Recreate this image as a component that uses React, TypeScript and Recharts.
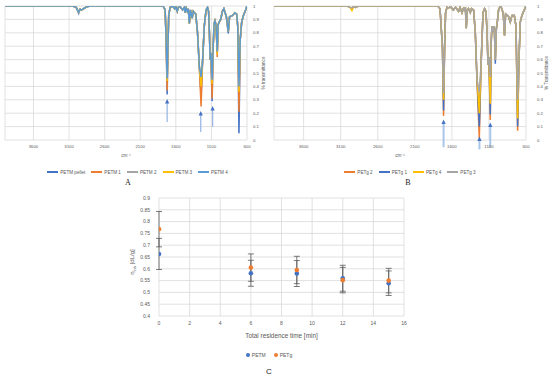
import React from 'react';
import {
  LineChart, Line, XAxis, YAxis, CartesianGrid, Legend, ReferenceLine, ReferenceDot, Label,
  ScatterChart, Scatter, ErrorBar,
} from 'recharts';

const FONT = '"Liberation Sans", Arial, sans-serif';
const TICK = '#595959';
const GRID = '#D9D9D9';

// ---------- Panel A : PETM spectra ----------
const aWavenumbers = [4000, 3050, 3000, 2965, 2945, 2925, 2880, 2850, 2800, 1780, 1750, 1736, 1722, 1710, 1700, 1680, 1640, 1615, 1600, 1580, 1565, 1540, 1505, 1480, 1470, 1455, 1440, 1425, 1410, 1395, 1370, 1355, 1340, 1320, 1295, 1270, 1245, 1225, 1200, 1175, 1155, 1140, 1128, 1118, 1108, 1090, 1075, 1062, 1050, 1035, 1018, 1005, 990, 970, 945, 925, 890, 863, 845, 800, 770, 745, 730, 713, 695, 675, 650, 620, 600];
const aBaseT = [1, 1, 0.99, 0.955, 0.975, 0.97, 0.985, 0.995, 1, 1, 0.97, 0.75, 0.46, 0.7, 0.93, 0.99, 1, 0.98, 0.995, 0.96, 0.99, 0.995, 0.97, 0.99, 0.95, 0.985, 0.96, 0.98, 0.87, 0.97, 0.91, 0.96, 0.95, 0.94, 0.8, 0.55, 0.47, 0.58, 0.85, 0.97, 0.99, 0.96, 0.8, 0.6, 0.65, 0.45, 0.7, 0.87, 0.89, 0.86, 0.66, 0.86, 0.88, 0.9, 0.96, 0.98, 0.92, 0.81, 0.92, 0.93, 0.95, 0.94, 0.85, 0.4, 0.75, 0.88, 0.93, 0.97, 1];
const aPeakWn = [2965, 1722, 1245, 1090, 1018, 863, 713];
const petmPellet = [0.945, 0.34, 0.33, 0.29, 0.65, 0.795, 0.05];
const petm1 = [0.955, 0.37, 0.25, 0.31, 0.62, 0.81, 0.21];
const petm2 = [0.955, 0.45, 0.42, 0.44, 0.66, 0.81, 0.38];
const petm3 = [0.955, 0.44, 0.40, 0.42, 0.64, 0.81, 0.36];
const petm4 = [0.955, 0.46, 0.47, 0.45, 0.66, 0.81, 0.40];
const aNames = ['PETM pellet', 'PETM 1', 'PETM 2', 'PETM 3', 'PETM 4'];
const aArrowWn = [1722, 1250, 1083];
const aArrowTip = [0.306, 0.216, 0.254];
const aArrowTail = [0.134, 0.06, 0.097];

// ---------- Panel B : PETg spectra ----------
const bWavenumbers = [4000, 3010, 2975, 2948, 2925, 2900, 2860, 1790, 1760, 1728, 1712, 1698, 1685, 1666, 1645, 1620, 1580, 1550, 1510, 1490, 1464, 1445, 1433, 1418, 1406, 1392, 1375, 1352, 1335, 1307, 1284, 1261, 1230, 1207, 1180, 1159, 1140, 1125, 1113, 1100, 1082, 1068, 1059, 1045, 1028, 1014, 1000, 991, 970, 947, 924, 905, 890, 875, 855, 835, 812, 789, 758, 735, 713, 695, 677, 655, 632, 600];
const bBaseT = [1, 1, 0.99, 0.985, 0.995, 0.99, 1, 1, 0.98, 0.7, 0.35, 0.7, 0.95, 0.99, 0.985, 0.995, 0.97, 0.99, 0.96, 0.99, 0.95, 0.98, 0.97, 0.99, 0.835, 0.97, 0.98, 0.95, 0.98, 0.97, 0.8, 0.45, 0.36, 0.55, 0.95, 0.98, 0.96, 0.8, 0.56, 0.62, 0.47, 0.75, 0.85, 0.82, 0.85, 0.6, 0.83, 0.86, 0.97, 1, 0.98, 0.93, 0.78, 0.94, 0.93, 0.92, 0.88, 0.93, 0.93, 0.85, 0.3, 0.6, 0.88, 0.93, 0.96, 1];
const bPeakWn = [2948, 1712, 1230, 1082, 1014, 713];
const petg2 = [0.985, 0.18, 0.01, 0.15, 0.6, 0.07];
const petg1 = [0.985, 0.22, 0.10, 0.19, 0.57, 0.10];
const petg4 = [0.965, 0.30, 0.20, 0.27, 0.6, 0.16];
const petg3 = [0.985, 0.35, 0.36, 0.47, 0.6, 0.30];
const bNames = ['PETg 2', 'PETg 1', 'PETg 4', 'PETg 3'];
const bArrowWn = [1712, 1228, 1082];
const bArrowTip = [0.153, 0.027, 0.13];
const bArrowTail = [-0.054, -0.07, -0.054];

const specXTicks = [3600, 3100, 2600, 2100, 1600, 1100, 600];
const specYTicks = [0, 0.1, 0.2, 0.3, 0.4, 0.5, 0.6, 0.7, 0.8, 0.9, 1];

// ---------- Panel C : inherent viscosity ----------
const times = [0, 6, 9, 12, 15];
const petmEta = [0.663, 0.581, 0.58, 0.56, 0.539];
const petmErr = [0.066, 0.055, 0.055, 0.055, 0.052];
const petgEta = [0.768, 0.605, 0.595, 0.552, 0.55];
const petgErr = [0.075, 0.058, 0.058, 0.054, 0.052];
const cXTicks = [0, 2, 4, 6, 8, 10, 12, 14, 16];
const cYTicks = [0.4, 0.45, 0.5, 0.55, 0.6, 0.65, 0.7, 0.75, 0.8, 0.85, 0.9];

const aColors = ['#4472C4', '#ED7D31', '#A5A5A5', '#FFC000', '#5B9BD5'];
const bColors = ['#ED7D31', '#4472C4', '#FFC000', '#A5A5A5'];

function buildSeries(wns: number[], base: number[], peakWn: number[], peakT: number[]) {
  return wns.map((wn, i) => {
    const k = peakWn.indexOf(wn);
    return { wn, t: k >= 0 ? peakT[k] : base[i] };
  });
}

const aData = [petmPellet, petm1, petm2, petm3, petm4].map((p) => buildSeries(aWavenumbers, aBaseT, aPeakWn, p));
const bData = [petg2, petg1, petg4, petg3].map((p) => buildSeries(bWavenumbers, bBaseT, bPeakWn, p));

const petmPoints = times.map((x, i) => ({ x, y: petmEta[i], err: petmErr[i] }));
const petgPoints = times.map((x, i) => ({ x, y: petgEta[i], err: petgErr[i] }));

const LineLegend = ({ names, colors }: { names: string[]; colors: string[] }) => (
  <div style={{ display: 'flex', justifyContent: 'center', alignItems: 'center', height: 10, fontFamily: FONT, fontSize: 4.6, color: TICK, whiteSpace: 'nowrap' }}>
    {names.map((n, i) => (
      <span key={n} style={{ display: 'flex', alignItems: 'center', margin: '0 3px' }}>
        <span style={{ display: 'inline-block', width: 11, height: 1.5, background: colors[i], marginRight: 2 }} />
        {n}
      </span>
    ))}
  </div>
);

const arrowHead = (color: string, w: number, h: number) => (props: any) => {
  const { cx, cy } = props;
  if (cx == null || cy == null) return <g />;
  return <polygon points={`${cx},${cy} ${cx - w / 2},${cy + h} ${cx + w / 2},${cy + h}`} fill={color} />;
};

function Spectrum(props: {
  data: { wn: number; t: number }[][];
  names: string[];
  colors: string[];
  width: number;
  marginLeft: number;
  yAxisWidth: number;
  yTickGap: number;
  yTitle: string;
  yTitleDx: number;
  arrowWn: number[];
  arrowTip: number[];
  arrowTail: number[];
  shaftColor: string;
  shaftWidth: number;
}) {
  const p = props;
  return (
    <LineChart width={p.width} height={190} margin={{ top: 6, left: p.marginLeft, right: 0, bottom: 13 }}>
      <CartesianGrid stroke={GRID} strokeWidth={0.8} />
      <XAxis type="number" dataKey="wn" domain={[600, 4000]} reversed ticks={specXTicks} allowDataOverflow
        axisLine={false} tickLine={false} tickSize={3} tickMargin={2} height={27} interval={0}
        tick={{ fontSize: 4.3, fill: TICK, fontFamily: FONT }}>
        <Label value="cm⁻¹" position="insideBottom" offset={10} fontSize={4.6} fill={TICK} fontFamily={FONT} />
      </XAxis>
      <YAxis orientation="right" type="number" domain={[0, 1]} ticks={specYTicks} allowDataOverflow
        axisLine={false} tickLine={false} tickSize={p.yTickGap} tickMargin={2} width={p.yAxisWidth} interval={0}
        tick={{ fontSize: 4.3, fill: TICK, fontFamily: FONT }}>
        <Label value={p.yTitle} angle={-90} position="center" dx={p.yTitleDx} fontSize={4.6} fill={TICK} fontFamily={FONT} />
      </YAxis>
      <Legend verticalAlign="bottom" align="center" wrapperStyle={{ left: 0, width: p.width }}
        content={() => <LineLegend names={p.names} colors={p.colors} />} />
      {p.data.map((d, i) => (
        <Line key={p.names[i]} name={p.names[i]} data={d} dataKey="t" type="linear" stroke={p.colors[i]}
          strokeWidth={1.5} dot={false} activeDot={false} isAnimationActive={false} />
      ))}
      {p.arrowWn.map((wn, i) => (
        <ReferenceLine key={'s' + i} ifOverflow="visible" stroke={p.shaftColor} strokeWidth={p.shaftWidth}
          segment={[{ x: wn, y: p.arrowTail[i] }, { x: wn, y: p.arrowTip[i] - 0.02 }]} />
      ))}
      {p.arrowWn.map((wn, i) => (
        <ReferenceDot key={'h' + i} x={wn} y={p.arrowTip[i]} ifOverflow="visible" shape={arrowHead('#4472C4', 4.2, 4.5)} />
      ))}
    </LineChart>
  );
}

const dotShape = (color: string) => (props: any) => {
  const { cx, cy } = props;
  if (cx == null || cy == null) return <g />;
  return <circle cx={cx} cy={cy} r={2.3} fill={color} />;
};

const EtaLabel = (props: any) => {
  const vb = props.viewBox || {};
  const cx = vb.x + vb.width / 2 - 7.5;
  const cy = vb.y + vb.height / 2 + 5;
  return (
    <text x={cx} y={cy} transform={`rotate(-90, ${cx}, ${cy})`} textAnchor="middle" dominantBaseline="central"
      fontSize={6} fill={TICK} fontFamily={FONT}>
      η<tspan fontSize={4} dy={1.5}>inh</tspan><tspan dy={-1.5}> [dL/g]</tspan>
    </text>
  );
};

const ScatterLegend = () => (
  <div style={{ display: 'flex', justifyContent: 'center', alignItems: 'center', height: 10, fontFamily: FONT, fontSize: 5, color: TICK, whiteSpace: 'nowrap' }}>
    {[['PETM', '#4472C4'], ['PETg', '#ED7D31']].map(([n, c]) => (
      <span key={n} style={{ display: 'flex', alignItems: 'center', margin: '0 4px' }}>
        <span style={{ display: 'inline-block', width: 4, height: 4, borderRadius: 2, background: c, marginRight: 2 }} />
        {n}
      </span>
    ))}
  </div>
);

const panelLetter = (text: string, x: number, y: number, serif: boolean) => (
  <div style={{ position: 'absolute', left: x, top: y, transform: 'translate(-50%, -50%)', fontFamily: serif ? '"Liberation Serif", "Times New Roman", serif' : FONT, fontSize: 8, color: '#222', lineHeight: 1 }}>{text}</div>
);

export default function App() {
  return (
    <div style={{ position: 'absolute', left: 0, top: 0, width: 550, height: 379, background: '#fff', overflow: 'hidden' }}>
      <div style={{ position: 'absolute', left: 0, top: 0 }}>
        <Spectrum data={aData} names={aNames} colors={aColors} width={275} marginLeft={5} yAxisWidth={28}
          yTickGap={4} yTitle="% transmittance" yTitleDx={2}
          arrowWn={aArrowWn} arrowTip={aArrowTip} arrowTail={aArrowTail} shaftColor="#9DB9E3" shaftWidth={1.3} />
      </div>
      <div style={{ position: 'absolute', left: 270, top: 0 }}>
        <Spectrum data={bData} names={bNames} colors={bColors} width={280} marginLeft={4} yAxisWidth={24}
          yTickGap={9} yTitle="% Transmittance" yTitleDx={8}
          arrowWn={bArrowWn} arrowTip={bArrowTip} arrowTail={bArrowTail} shaftColor="#A9C6EA" shaftWidth={2} />
      </div>
      <div style={{ position: 'absolute', left: 100, top: 185 }}>
        <ScatterChart width={338} height={194} margin={{ top: 13, left: 20, right: 34, bottom: 19 }}>
          <CartesianGrid stroke={GRID} strokeWidth={0.8} />
          <XAxis type="number" dataKey="x" domain={[0, 16]} ticks={cXTicks} allowDataOverflow interval={0}
            axisLine={false} tickLine={false} tickSize={3} tickMargin={2} height={34}
            tick={{ fontSize: 5, fill: TICK, fontFamily: FONT }}>
            <Label value="Total residence time [min]" position="insideBottom" offset={12} fontSize={6.4} fill={TICK} fontFamily={FONT} />
          </XAxis>
          <YAxis type="number" dataKey="y" domain={[0.4, 0.9]} ticks={cYTicks} allowDataOverflow interval={0}
            axisLine={false} tickLine={false} tickSize={6} tickMargin={3} width={39}
            tick={{ fontSize: 5, fill: TICK, fontFamily: FONT }}>
            <Label content={EtaLabel} />
          </YAxis>
          <Legend verticalAlign="bottom" align="center" wrapperStyle={{ left: 0, width: 338 }} content={() => <ScatterLegend />} />
          <Scatter name="PETM" data={petmPoints} fill="#4472C4" shape={dotShape('#4472C4')} isAnimationActive={false}>
            <ErrorBar dataKey="err" direction="y" width={3} strokeWidth={0.8} stroke="#595959" isAnimationActive={false} />
          </Scatter>
          <Scatter name="PETg" data={petgPoints} fill="#ED7D31" shape={dotShape('#ED7D31')} isAnimationActive={false}>
            <ErrorBar dataKey="err" direction="y" width={3} strokeWidth={0.8} stroke="#595959" isAnimationActive={false} />
          </Scatter>
        </ScatterChart>
      </div>
      {panelLetter('A', 128, 183, true)}
      {panelLetter('B', 408, 183, true)}
      {panelLetter('C', 269, 372, false)}
    </div>
  );
}
